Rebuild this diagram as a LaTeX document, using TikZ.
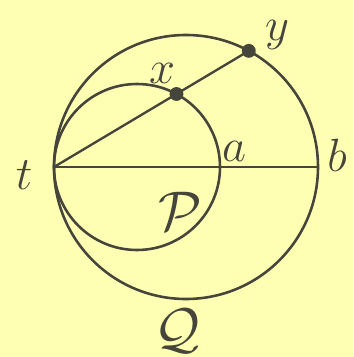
\documentclass[tikz,border=0pt]{standalone}
\usetikzlibrary{calc}
\definecolor{paper}{HTML}{FFFFB4}
\definecolor{ink}{HTML}{45453C}
\begin{document}
\begin{tikzpicture}[x=0.03cm, y=0.03cm, every node/.style={font=\Huge, scale=1.6, text=ink}]
\tikzset{ring/.style={draw=ink, line width=2.2pt}, chord/.style={draw=ink, line width=2pt}, dot/.style={circle, fill=ink, inner sep=0pt, minimum size=0.26cm}}
\fill[paper] (0,0) rectangle (353,357);
\useasboundingbox (0,0) rectangle (353,357);
\coordinate (cQ) at (186,190);
\coordinate (cP) at (137,190);
\coordinate (t) at (54,190);
\coordinate (b) at (318,190);
\coordinate (a) at (220,190);
\draw[ring] (cQ) circle (132);
\draw[ring] (cP) circle (83);
\path (t) ++(30.8:142.6) coordinate (x);
\path (t) ++(30.8:226.8) coordinate (y);
\draw[chord] (t) -- (b);
\draw[chord] (t) -- (y);
\node[dot] (xdot) at (x) {};
\node[dot] (ydot) at (y) {};
\node (lt) at (24,182) {$t$};
\node (lb) at (337,202) {$b$};
\node (la) at (234,206) {$a$};
\node (lx) at (162,284) {$x$};
\node (ly) at (277,322) {$y$};
\node[scale=1.2] (lP) at (180,146) {$\mathcal{P}$};
\node[scale=1.2] (lQ) at (177,26) {$\mathcal{Q}$};
\end{tikzpicture}
\end{document}
